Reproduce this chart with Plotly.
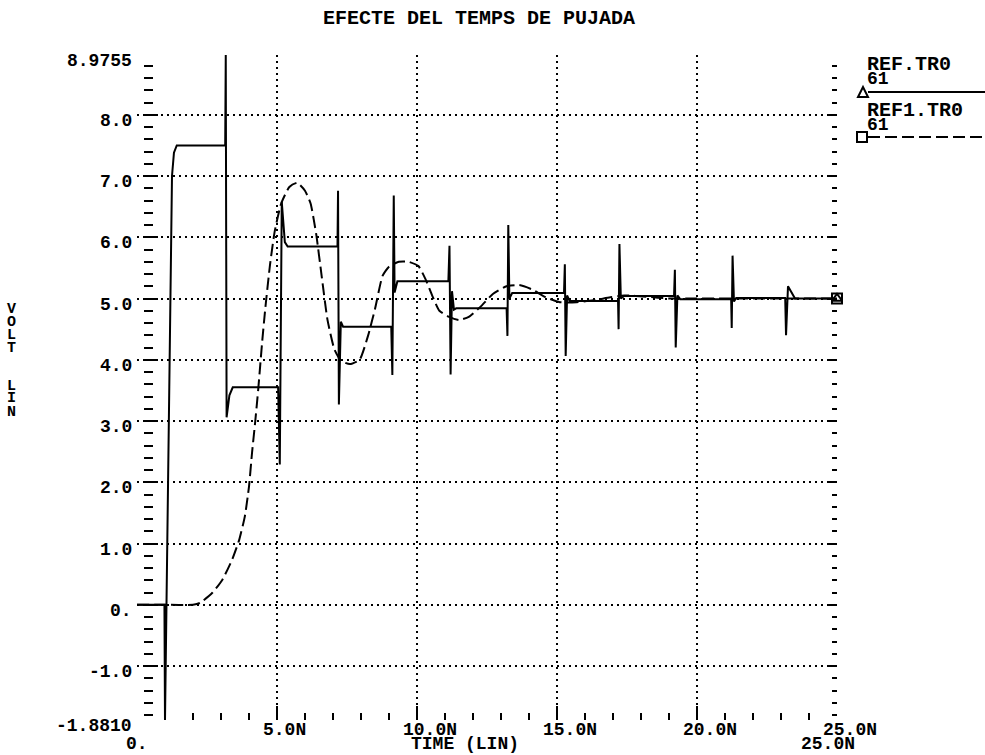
import numpy as np
import plotly.graph_objects as go

# ---------------- data ----------------
# REF.TR0 (solid) : time in ns, voltage in V
t_ref = [0, 0.98, 1.0, 1.25, 1.32, 1.42, 3.15, 3.17, 3.2, 3.3, 3.42,
         5.04, 5.1, 5.17, 5.28, 5.38,
         7.16, 7.18, 7.21, 7.28, 7.36,
         9.08, 9.12, 9.17, 9.2, 9.3,
         11.12, 11.16, 11.2, 11.25, 11.32, 11.4,
         13.2, 13.23, 13.26, 13.3, 13.4,
         15.25, 15.28, 15.31, 15.36, 15.45,
         17.18, 17.2, 17.23, 17.28, 17.4,
         19.18, 19.21, 19.24, 19.3, 19.4,
         21.22, 21.24, 21.27, 21.32, 21.4,
         23.15, 23.18, 23.25, 23.5, 25.0]
v_ref = [0, 0, -1.881, 7.0, 7.38, 7.5, 7.5, 8.9755, 3.06, 3.42, 3.55,
         3.55, 2.29, 6.58, 5.92, 5.85,
         5.85, 6.76, 3.27, 4.62, 4.54,
         4.54, 3.75, 6.68, 5.1, 5.28,
         5.28, 5.86, 3.76, 5.12, 4.82, 4.84,
         4.84, 4.39, 6.2, 5.0, 5.09,
         5.09, 5.56, 4.06, 5.05, 4.96,
         4.96, 4.5, 5.89, 5.0, 5.04,
         5.04, 5.47, 4.2, 5.05, 4.99,
         4.99, 4.52, 5.7, 4.95, 5.01,
         5.01, 4.4, 5.2, 5.0, 5.0]

# REF1.TR0 (dashed)
t_ref1 = [0, 1.0, 2.0, 2.25, 2.7, 3.05, 3.4, 3.65, 3.85, 4.0, 4.11, 4.22, 4.33,
          4.47, 4.58, 4.75, 4.92, 5.15, 5.44, 5.72, 6.0, 6.2, 6.4, 6.6, 6.8,
          7.05, 7.3, 7.6, 7.95, 8.25, 8.5, 8.77, 9.0, 9.35, 9.7, 10.05, 10.3,
          10.55, 10.8, 11.15, 11.5, 11.85, 12.3, 12.7, 13.2, 13.65, 14.1, 14.6,
          15.1, 15.7, 16.3, 16.9, 17.4, 18.2, 19.0, 20.0, 22.0, 25.0]
v_ref1 = [0, 0, 0, 0.03, 0.2, 0.41, 0.74, 1.06, 1.44, 1.93, 2.49, 2.98, 3.52,
          4.29, 4.83, 5.55, 6.1, 6.55, 6.82, 6.89, 6.76, 6.55, 6.05, 5.35, 4.66,
          4.17, 3.98, 3.93, 4.0, 4.39, 4.83, 5.37, 5.52, 5.6, 5.6, 5.53, 5.32,
          5.04, 4.8, 4.7, 4.65, 4.7, 4.88, 5.07, 5.2, 5.22, 5.15, 5.02,
          4.94, 4.94, 4.97, 5.02, 5.05, 5.03, 5.0, 5.0, 5.0, 5.0]

y_range = [-1.881, 8.9755]
x_range = [0, 25]
y_grid = [-1, 0, 1, 2, 3, 4, 5, 6, 7, 8]
y_labels = ["-1.8810", "-1.0", "0.", "1.0", "2.0", "3.0", "4.0", "5.0", "6.0", "7.0", "8.0", "8.9755"]
y_label_vals = [-1.881, -1, 0, 1, 2, 3, 4, 5, 6, 7, 8, 8.9755]
x_grid = [5, 10, 15, 20, 25]
x_labels = ["5.0N", "10.0N", "15.0N", "20.0N", "25.0N"]

title = "EFECTE DEL TEMPS DE PUJADA"
x_title = "TIME (LIN)"
y_title_words = ["VOLT", "LIN"]
legend_files = ["REF.TR0", "REF1.TR0"]
legend_sigs = ["61", "61"]

# ---------------- geometry helpers ----------------
W, H = 985, 755
L, R, T, B = 137, 837, 55, 720


def px(x):
    return (x - L) / (R - L)


def py(y):
    return (B - y) / (B - T)


FONT = dict(family="Liberation Mono", size=20, color="black", weight="bold")
FONT_T = dict(FONT, size=18)

minor_y = [v for v in np.round(np.arange(-1.8, 8.81, 0.2), 1) if abs(v - round(v)) > 1e-6]
minor_y = list(minor_y) + [y_range[0], y_range[1]]

fig = go.Figure()
fig.add_trace(go.Scatter(x=t_ref, y=v_ref, mode="lines",
                         line=dict(color="black", width=2),
                         cliponaxis=False, showlegend=False, hoverinfo="skip"))
fig.add_trace(go.Scatter(x=t_ref1, y=v_ref1, mode="lines",
                         line=dict(color="black", width=2, dash="12px,5px",
                                   shape="spline", smoothing=0.5),
                         cliponaxis=False, showlegend=False, hoverinfo="skip"))
# end markers
fig.add_trace(go.Scatter(x=[t_ref[-1]], y=[v_ref[-1]], mode="markers",
                         marker=dict(symbol="triangle-up-open", size=9, color="black",
                                     line=dict(width=2, color="black")),
                         cliponaxis=False, showlegend=False, hoverinfo="skip"))
fig.add_trace(go.Scatter(x=[t_ref1[-1]], y=[v_ref1[-1]], mode="markers",
                         marker=dict(symbol="square-open", size=10, color="black",
                                     line=dict(width=2, color="black")),
                         cliponaxis=False, showlegend=False, hoverinfo="skip"))
# invisible trace for the right-hand tick axis
fig.add_trace(go.Scatter(x=[t_ref[-1]], y=[v_ref[-1]], mode="markers", yaxis="y2",
                         marker=dict(opacity=0), showlegend=False, hoverinfo="skip"))

grid = dict(showgrid=True, gridcolor="black", gridwidth=2, griddash="2px,4px")

fig.update_layout(
    width=W, height=H,
    margin=dict(l=L, r=W - R, t=T, b=H - B, pad=0),
    paper_bgcolor="white", plot_bgcolor="white",
    xaxis=dict(range=x_range, tickmode="array", tickvals=x_grid, showticklabels=False,
               ticks="inside", ticklen=14, tickwidth=2, tickcolor="black",
               zeroline=False, showline=False,
               minor=dict(dtick=1, tick0=0, ticks="inside", ticklen=7, tickwidth=2,
                          tickcolor="black", showgrid=False),
               **grid),
    yaxis=dict(range=y_range, tickmode="array", tickvals=y_grid, showticklabels=False,
               ticks="inside", ticklen=14, tickwidth=2, tickcolor="black",
               zeroline=False, showline=False, anchor="free", position=px(143),
               minor=dict(tickmode="array", tickvals=minor_y, ticks="inside", ticklen=9,
                          tickwidth=2, tickcolor="black", showgrid=False),
               **grid),
    yaxis2=dict(range=y_range, overlaying="y", side="right", anchor="x",
                tickmode="array", tickvals=y_grid, showticklabels=False,
                ticks="inside", ticklen=10, tickwidth=2, tickcolor="black",
                showgrid=False, zeroline=False, showline=False,
                minor=dict(tickmode="array", tickvals=minor_y, ticks="inside", ticklen=5,
                           tickwidth=2, tickcolor="black", showgrid=False)),
    showlegend=False,
)

ann = []
# title
ann.append(dict(text=title, xref="paper", yref="paper", x=px(479), y=py(19),
                xanchor="center", yanchor="middle", showarrow=False, font=FONT))
# y tick labels
for v, s in zip(y_label_vals, y_labels):
    ann.append(dict(text=s, xref="paper", yref="y", x=px(134), y=v, xanchor="right",
                    yanchor="middle", yshift=-6, showarrow=False, font=FONT_T))
# x tick labels (first row)
for v, s in zip(x_grid, x_labels):
    ann.append(dict(text=s, xref="x", yref="paper", x=v, y=py(730), xanchor="left",
                    xshift=-15, yanchor="middle", showarrow=False, font=FONT_T,
                    borderpad=0))
# second row: range start / title / range end
ann.append(dict(text="0.", xref="x", yref="paper", x=x_range[0], y=py(744), xanchor="left",
                xshift=-12, yanchor="middle", showarrow=False, font=FONT_T, borderpad=0))
ann.append(dict(text=x_title, xref="paper", yref="paper", x=px(465), y=py(744),
                xanchor="center", yanchor="middle", showarrow=False, font=FONT_T,
                borderpad=0))
ann.append(dict(text=x_labels[-1], xref="x", yref="paper", x=x_range[1], y=py(744),
                xanchor="left", xshift=-37, yanchor="middle", showarrow=False, font=FONT_T,
                borderpad=0))
# y axis title (stacked letters)
for w, word in enumerate(y_title_words):
    for i, ch in enumerate(word):
        ann.append(dict(text=ch, xref="paper", yref="paper", x=px(11),
                        y=py(309 + 13 * i + 77 * w), xanchor="center", yanchor="middle",
                        showarrow=False, font=dict(FONT, size=15), borderpad=0))
# legend text
for k, (f, s) in enumerate(zip(legend_files, legend_sigs)):
    y0 = 64 + 46 * k
    ann.append(dict(text=f, xref="paper", yref="paper", x=px(866), y=py(y0), xanchor="left",
                    yanchor="middle", showarrow=False, font=FONT, borderpad=0))
    ann.append(dict(text=s, xref="paper", yref="paper", x=px(866), y=py(y0 + 15),
                    xanchor="left", yanchor="middle", showarrow=False, font=FONT_T,
                    borderpad=0))

fig.update_layout(annotations=ann)

# legend line samples and symbols
shapes = []
shapes.append(dict(type="line", xref="paper", yref="paper", x0=px(868), x1=px(985),
                   y0=py(92), y1=py(92), line=dict(color="black", width=2)))
shapes.append(dict(type="path", xref="paper", yref="paper",
                   path=f"M {px(858)},{py(97)} L {px(868)},{py(97)} L {px(863)},{py(87)} Z",
                   line=dict(color="black", width=2)))
shapes.append(dict(type="line", xref="paper", yref="paper", x0=px(868), x1=px(985),
                   y0=py(137), y1=py(137), line=dict(color="black", width=2, dash="12px,5px")))
shapes.append(dict(type="rect", xref="paper", yref="paper", x0=px(857), x1=px(867),
                   y0=py(142), y1=py(132), line=dict(color="black", width=2)))
fig.update_layout(shapes=shapes)

fig.write_html("out.html")
